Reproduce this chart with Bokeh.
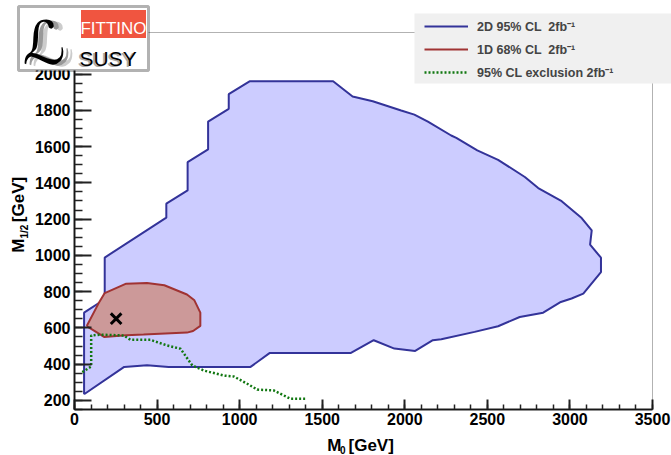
import math
from bokeh.plotting import figure
from bokeh.models import Range1d, FixedTicker, Label, BoxAnnotation, Legend, LegendItem
from bokeh.embed import file_html
from bokeh.resources import INLINE

# ---------------- data ----------------
cl95_m0 = [58, 58, 183, 183, 556, 556, 685, 685, 809, 809, 934, 934, 1060, 1566,
           1684, 1806, 1978, 2058, 2140, 2281, 2312, 2439, 2565, 2727, 2808, 2950,
           3071, 3132, 3122, 3188, 3188, 3081, 3010, 2945, 2838, 2696, 2565, 2423,
           2221, 2170, 2063, 1937, 1812, 1674, 1183, 1066, 570, 439, 301]
cl95_m12 = [234, 684, 758, 988, 1208, 1285, 1358, 1514, 1584, 1738, 1808, 1889, 1960, 1960,
            1876, 1850, 1799, 1776, 1738, 1661, 1648, 1579, 1527, 1432, 1371, 1299,
            1206, 1138, 1059, 987, 908, 789, 762, 743, 684, 660, 609, 578,
            537, 532, 473, 486, 532, 462, 462, 385, 385, 394, 385]

cl68_m0 = [74, 145, 183, 313, 439, 544, 681, 726, 762, 762, 718, 681, 418, 313, 179]
cl68_m12 = [610, 734, 792, 844, 847, 835, 784, 752, 684, 611, 583, 574, 563, 559, 550]

excl_m0 = [47, 101, 101, 157, 299, 339, 460, 561, 642, 713, 783, 904, 965, 1046,
           1106, 1207, 1308, 1399]
excl_m12 = [356, 387, 558, 563, 558, 534, 534, 503, 485, 393, 365, 337, 332, 292,
            260, 255, 209, 209]

best_m0 = [252]
best_m12 = [651]

x_ticks = [0, 500, 1000, 1500, 2000, 2500, 3000, 3500]
y_ticks = [200, 400, 600, 800, 1000, 1200, 1400, 1600, 1800, 2000]
x_minor = list(range(0, 3501, 100))
y_minor = list(range(150, 2201, 50))

legend_labels = ["2D 95% CL  2fb\u207b\u00b9", "1D 68% CL  2fb\u207b\u00b9",
                 "95% CL exclusion 2fb\u207b\u00b9"]

# ---------------- layout ----------------
W, H = 671, 455
# pixel position of the axes box inside the picture
BL, BR, BT, BB = 74, 19, 32, 46
X0, X1 = 0, 3500
Y0, Y1 = 150, 2229
FW, FH = W - BL - BR, H - BT - BB


def fx(px):
    return X0 + (px - BL) * (X1 - X0) / FW


def fy(py):
    return Y0 + (H - BB - py) * (Y1 - Y0) / FH


# the drawing area spans the whole picture; axes sit at fixed data positions
p = figure(width=W, height=H, x_range=Range1d(fx(0), fx(W)), y_range=Range1d(fy(H), fy(0)),
           output_backend="svg", toolbar_location=None,
           min_border_left=0, min_border_right=0, min_border_top=0, min_border_bottom=0)
p.title.visible = False
p.xgrid.visible = False
p.ygrid.visible = False
p.outline_line_color = None
p.background_fill_color = "white"
p.border_fill_color = "white"

p.xaxis.fixed_location = Y0
p.yaxis.fixed_location = X0
p.xaxis.bounds = (X0, X1)
p.yaxis.bounds = (Y0, Y1)

for ax in (p.xaxis[0], p.yaxis[0]):
    ax.axis_line_color = "#222222"
    ax.axis_line_width = 2
    ax.major_tick_line_color = "#222222"
    ax.minor_tick_line_color = "#222222"
    ax.major_tick_line_width = 2
    ax.minor_tick_line_width = 1.5
    ax.major_tick_out = 0
    ax.minor_tick_out = 0
    ax.major_label_text_font = "Liberation Sans"
    ax.major_label_text_font_style = "bold"
    ax.major_label_text_font_size = "16px"
    ax.major_label_text_color = "black"

p.xaxis.ticker = FixedTicker(ticks=x_ticks, minor_ticks=x_minor)
p.yaxis.ticker = FixedTicker(ticks=y_ticks, minor_ticks=y_minor)
p.xaxis.major_tick_in = 10
p.xaxis.minor_tick_in = 5
p.yaxis.major_tick_in = 17
p.yaxis.minor_tick_in = 8
p.xaxis.major_label_standoff = 3
p.yaxis.major_label_standoff = 4

# ---------------- contours ----------------
p.patch(cl95_m0, cl95_m12, fill_color="#ccccff", line_alpha=0)
l95 = p.line(cl95_m0 + cl95_m0[:1], cl95_m12 + cl95_m12[:1], line_color="#333399", line_width=2)
p.patch(cl68_m0, cl68_m12, fill_color="#cc9999", line_alpha=0)
l68 = p.line(cl68_m0 + cl68_m0[:1], cl68_m12 + cl68_m12[:1], line_color="#a03333", line_width=2)
lex = p.line(excl_m0, excl_m12, line_color="#117711", line_width=2.5, line_dash="2 2")
p.scatter(best_m0, best_m12, marker="x", size=15, line_width=3, line_color="black")

# frame (top and right edges)
p.add_layout(BoxAnnotation(left=X0, right=X1, bottom=Y0, top=Y1,
                           fill_alpha=0, line_color="black", line_width=1))

# ---------------- legend ----------------
p.add_layout(BoxAnnotation(left=fx(414), right=fx(690), top=fy(13), bottom=fy(83),
                           fill_color="#f0f0f0", fill_alpha=1, line_alpha=0))
legend = Legend(items=[LegendItem(label=legend_labels[0], renderers=[l95]),
                       LegendItem(label=legend_labels[1], renderers=[l68]),
                       LegendItem(label=legend_labels[2], renderers=[lex])],
                location=(424, H - 82),
                background_fill_alpha=0, border_line_alpha=0,
                padding=0, spacing=3, label_height=20, glyph_height=20, glyph_width=44,
                label_standoff=9, label_text_font="Liberation Sans",
                label_text_font_style="bold", label_text_font_size="12.5px")
p.add_layout(legend)


# ---------------- texts ----------------
def txt(px, py, s, size, angle=0.0, color="black", style="bold", font="Liberation Sans",
        align="left", fix=True):
    # baseline correction (text is drawn ~0.25 em below the requested baseline)
    d = 0.25 * size if fix else 0.0
    if angle:
        px -= d
    else:
        py -= d
    p.add_layout(Label(x=fx(px), y=fy(py), text=s, angle=angle, text_align=align,
                       text_baseline="alphabetic", text_font=font,
                       text_font_style=style, text_font_size=f"{size}px", text_color=color))


txt(326.7, 449.5, "M", 17)
txt(339.5, 451.5, "0", 10)
txt(348, 449.5, "[GeV]", 17)

txt(22.5, 252.3, "M", 17, angle=math.pi / 2)
txt(26, 238, "1/2", 10, angle=math.pi / 2)
txt(22.5, 221.7, "[GeV]", 17, angle=math.pi / 2)

# ---------------- logo ----------------
p.add_layout(BoxAnnotation(left=fx(18), right=fx(148), top=fy(6), bottom=fy(70),
                           fill_color="white", fill_alpha=1, line_color="black", line_width=3))
p.add_layout(BoxAnnotation(left=fx(80.5), right=fx(145.5), top=fy(9.5), bottom=fy(37.5),
                           fill_color="#f05540", fill_alpha=1, line_alpha=0))
txt(113, 32, "FITTINO", 17, color="white", style="normal", align="center")
txt(31, 44, "\u2112", 60, color="#cccccc", style="normal", font="DejaVu Sans", fix=False)
txt(27, 43, "\u2112", 60, color="#999999", style="normal", font="DejaVu Sans", fix=False)
txt(22, 42, "\u2112", 60, color="black", style="normal", font="DejaVu Sans", fix=False)
txt(77, 64, "SUSY", 21, color="#aaaaaa", style="normal")
txt(79, 63, "SUSY", 21, color="black", style="normal")

open("out.html", "w").write(file_html(p, INLINE))
